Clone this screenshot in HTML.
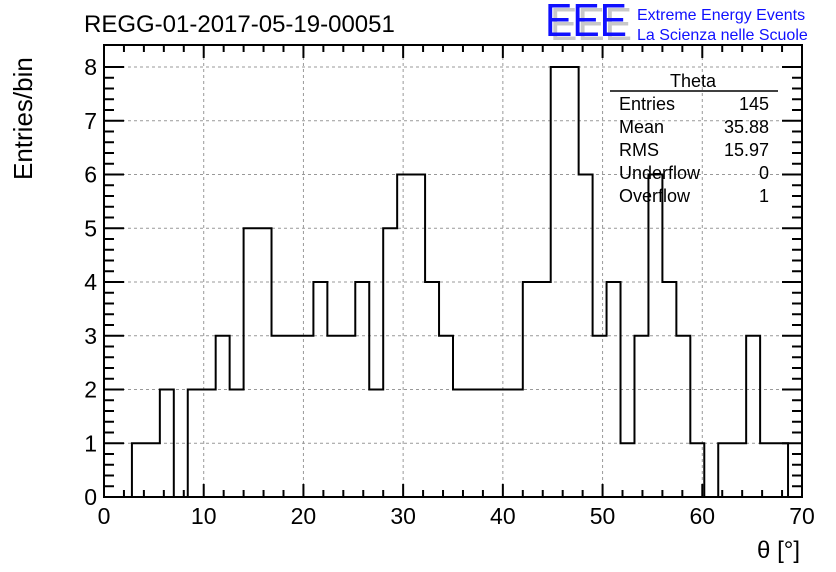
<!DOCTYPE html>
<html><head><meta charset="utf-8"><style>
body{margin:0;background:#fff;}
svg{display:block;font-family:"Liberation Sans",sans-serif;}
</style></head><body>
<svg id="chart" width="836" height="572">
<rect width="836" height="572" fill="#fff"/>
<text x="84" y="32" font-size="24">REGG-01-2017-05-19-00051</text>
<g>
<text x="550" y="40" font-size="46" fill="#c8c8c8" textLength="82" lengthAdjust="spacingAndGlyphs">EEE</text>
<text x="545" y="36" font-size="46" fill="#1010ff" textLength="82" lengthAdjust="spacingAndGlyphs">EEE</text>
<text x="637" y="20" font-size="16" fill="#1010ff">Extreme Energy Events</text>
<text x="637" y="40" font-size="16" fill="#1010ff">La Scienza nelle Scuole</text>
</g>
<g id="grid"></g>
<g id="axes"></g>
<path id="hist" fill="none" stroke="#000" stroke-width="2"/>
<g>
<text x="693" y="87" font-size="18" text-anchor="middle">Theta</text>
<line x1="610" y1="91" x2="778" y2="91" stroke="#000" stroke-width="1.5"/>
<text x="619" y="110" font-size="18">Entries</text><text x="769" y="110" font-size="18" text-anchor="end">145</text>
<text x="619" y="133" font-size="18">Mean</text><text x="769" y="133" font-size="18" text-anchor="end">35.88</text>
<text x="619" y="156" font-size="18">RMS</text><text x="769" y="156" font-size="18" text-anchor="end">15.97</text>
<text x="619" y="179" font-size="18">Underflow</text><text x="769" y="179" font-size="18" text-anchor="end">0</text>
<text x="619" y="202" font-size="18">Overflow</text><text x="769" y="202" font-size="18" text-anchor="end">1</text>
</g>
<text x="800" y="558" font-size="24" text-anchor="end">θ [°]</text>
<text transform="translate(32,180) rotate(-90)" font-size="26">Entries/bin</text>
</svg>
<script>
const counts=[0,0,1,1,2,0,2,2,3,2,5,5,3,3,3,4,3,3,4,2,5,6,6,4,3,2,2,2,2,2,4,4,8,8,6,3,4,1,3,6,4,3,1,0,1,1,3,1,1,0];
const xTicks=[0,10,20,30,40,50,60,70];
const yTicks=[0,1,2,3,4,5,6,7,8];
const xMin=0,xMax=70,yMin=0,yMax=8;
const L=104,R=802,T=45,B=497,Y8=67;
const sx=v=>L+(v-xMin)/(xMax-xMin)*(R-L);
const sy=v=>B-(v-yMin)/(yMax-yMin)*(B-Y8);
const NS="http://www.w3.org/2000/svg";
function mk(tag,attrs,parent){const e=document.createElementNS(NS,tag);for(const k in attrs)e.setAttribute(k,attrs[k]);parent.appendChild(e);return e;}
const grid=document.getElementById('grid'),axes=document.getElementById('axes');
xTicks.forEach(t=>{if(t>xMin&&t<xMax){const g=mk('line',{x1:sx(t),x2:sx(t),y1:T,y2:B,stroke:'#999','stroke-dasharray':'3,3'},grid);

}});
yTicks.forEach(t=>{if(t>yMin){const g=mk('line',{x1:L,x2:R,y1:sy(t),y2:sy(t),stroke:'#999','stroke-dasharray':'3,3'},grid);

}});
const fr=mk('rect',{x:L,y:T,width:R-L,height:B-T,fill:'none',stroke:'#000','stroke-width':2},axes);


for(let v=xMin;v<=xMax;v+=2){const major=v%10===0;const len=major?13:7;
mk('line',{x1:sx(v),x2:sx(v),y1:B,y2:B-len,stroke:'#000','stroke-width':2},axes);
mk('line',{x1:sx(v),x2:sx(v),y1:T,y2:T+len,stroke:'#000','stroke-width':2},axes);}
for(let k=0;k<=40;k++){const v=k*0.2;const major=k%5===0;const len=major?20:10;
mk('line',{x1:L,x2:L+len,y1:sy(v),y2:sy(v),stroke:'#000','stroke-width':2},axes);
mk('line',{x1:R,x2:R-len,y1:sy(v),y2:sy(v),stroke:'#000','stroke-width':2},axes);}
xTicks.forEach(t=>{const e=mk('text',{x:sx(t),y:524,'font-size':23,'text-anchor':'middle'},axes);e.textContent=t;

});
yTicks.forEach(t=>{const e=mk('text',{x:97,y:sy(t)+8,'font-size':23,'text-anchor':'end'},axes);e.textContent=t;

});
const bw=(xMax-xMin)/counts.length;
let d='M'+sx(xMin)+','+sy(0);
counts.forEach((c,i)=>{d+=' L'+sx(xMin+i*bw)+','+sy(c)+' L'+sx(xMin+(i+1)*bw)+','+sy(c);});
d+=' L'+sx(xMax)+','+sy(0);
document.getElementById('hist').setAttribute('d',d);
</script>
</body></html>
